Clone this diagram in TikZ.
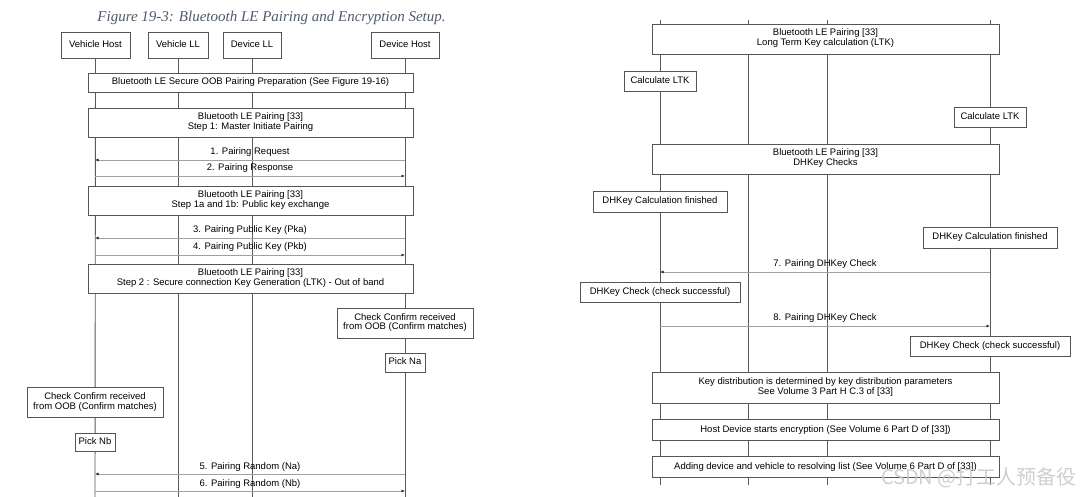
\documentclass[tikz,border=0pt]{standalone}
\usepackage{fontspec}
\setmainfont{Liberation Sans}
\newfontfamily\titlefont{Liberation Serif}
\newfontfamily\cjkfont{Noto Sans CJK SC}
\usetikzlibrary{arrows.meta}
\definecolor{boxline}{HTML}{555555}
\definecolor{lifeline}{HTML}{5A5A5A}
\definecolor{msgline}{HTML}{A0A0A0}
\definecolor{titlecol}{HTML}{4D5B70}
\newcommand\twolines[2]{\begin{tabular}{@{}c@{}}#1\\#2\end{tabular}}
\tikzset{
  boxbase/.style={draw=boxline, line width=0.9pt, fill=white, inner sep=0pt,
    font=\fontsize{9.5}{10}\selectfont, text=black},
  box/.style={boxbase, text height=7pt, text depth=2pt},
  box2/.style={boxbase},
  life/.style={draw=lifeline, line width=0.9pt},
  msg/.style={draw=msgline, line width=0.8pt, -{Latex[length=3.5pt,width=3pt,color=black!85]}},
  msglabel/.style={anchor=base, yshift=5pt, inner sep=0pt, font=\fontsize{9.5}{10}\selectfont, text=black}
}
\begin{document}
\begin{tikzpicture}[x=1pt,y=-1pt]
\useasboundingbox (0,0) rectangle (1080,497);
\fill[white] (0,0) rectangle (1080,497);

% ---------- LEFT PANEL ----------
\node[font=\titlefont\itshape\fontsize{15}{16}\selectfont, text=titlecol] (title) at (271.5,18) {Figure 19-3: Bluetooth LE Pairing and Encryption Setup.};

\node[box, minimum width=69, minimum height=26] (vh) at (95.5,45) {Vehicle Host};
\node[box, minimum width=60, minimum height=26] (vl) at (178,45) {Vehicle LL};
\node[box, minimum width=58, minimum height=26] (dl) at (252,45) {Device LL};
\node[box, minimum width=68, minimum height=26] (dh) at (405,45) {Device Host};

\coordinate (vhb) at (95,497);
\coordinate (vlb) at (178,497);
\coordinate (dlb) at (252,497);
\coordinate (dhb) at (405,497);
\draw[life] (vh.south) -- (vhb);
\draw[life] (vl.south) -- (vlb);
\draw[life] (dl.south) -- (dlb);
\draw[life] (dh.south) -- (dhb);

\node[box, minimum width=325, minimum height=19] (lb1) at (250.5,82.5) {Bluetooth LE Secure OOB Pairing Preparation (See Figure 19-16)};
\node[box2, minimum width=325, minimum height=29] (lb2) at (250.5,122.5) {\twolines{Bluetooth LE Pairing [33]}{Step 1: Master Initiate Pairing}};

\coordinate (m1a) at (405,160); \coordinate (m1b) at (95,160);
\draw[msg] (m1a) -- node[msglabel] {1. Pairing Request} (m1b);
\coordinate (m2a) at (95,176); \coordinate (m2b) at (405,176);
\draw[msg] (m2a) -- node[msglabel] {2. Pairing Response} (m2b);

\node[box2, minimum width=325, minimum height=29] (lb3) at (250.5,200.5) {\twolines{Bluetooth LE Pairing [33]}{Step 1a and 1b: Public key exchange}};

\coordinate (m3a) at (405,238); \coordinate (m3b) at (95,238);
\draw[msg] (m3a) -- node[msglabel] {3. Pairing Public Key (Pka)} (m3b);
\coordinate (m4a) at (95,255); \coordinate (m4b) at (405,255);
\draw[msg] (m4a) -- node[msglabel] {4. Pairing Public Key (Pkb)} (m4b);

\node[box2, minimum width=325, minimum height=29] (lb4) at (250.5,278.5) {\twolines{Bluetooth LE Pairing [33]}{Step 2 : Secure connection Key Generation (LTK) - Out of band}};

\node[box2, minimum width=136, minimum height=30] (cc1) at (405,323) {\twolines{Check Confirm received}{from OOB (Confirm matches)}};
\node[box, minimum width=40, minimum height=19] (pna) at (405,362.5) {Pick Na};
\node[box2, minimum width=136, minimum height=30] (cc2) at (95,402) {\twolines{Check Confirm received}{from OOB (Confirm matches)}};
\node[box, minimum width=40, minimum height=18] (pnb) at (95,442) {Pick Nb};

\coordinate (m5a) at (405,474); \coordinate (m5b) at (95,474);
\draw[msg] (m5a) -- node[msglabel] {5. Pairing Random (Na)} (m5b);
\coordinate (m6a) at (95,491); \coordinate (m6b) at (405,491);
\draw[msg] (m6a) -- node[msglabel] {6. Pairing Random (Nb)} (m6b);

% ---------- RIGHT PANEL ----------
\coordinate (r1t) at (660,20); \coordinate (r1b) at (660,485);
\coordinate (r2t) at (748,20); \coordinate (r2b) at (748,485);
\coordinate (r3t) at (827,20); \coordinate (r3b) at (827,485);
\coordinate (r4t) at (990,20); \coordinate (r4b) at (990,485);
\draw[life] (r1t) -- (r1b);
\draw[life] (r2t) -- (r2b);
\draw[life] (r3t) -- (r3b);
\draw[life] (r4t) -- (r4b);

\node[box2, minimum width=347, minimum height=30] (rb1) at (825.5,39) {\twolines{Bluetooth LE Pairing [33]}{Long Term Key calculation (LTK)}};
\node[box, minimum width=72, minimum height=20] (cl1) at (660,81) {Calculate LTK};
\node[box, minimum width=72, minimum height=20] (cl2) at (990,117) {Calculate LTK};
\node[box2, minimum width=347, minimum height=30] (rb2) at (825.5,159) {\twolines{Bluetooth LE Pairing [33]}{DHKey Checks}};
\node[box, minimum width=134, minimum height=21] (dc1) at (660,201.5) {DHKey Calculation finished};
\node[box, minimum width=134, minimum height=21] (dc2) at (990,237.5) {DHKey Calculation finished};

\coordinate (m7a) at (990,272); \coordinate (m7b) at (660,272);
\draw[msg] (m7a) -- node[msglabel] {7. Pairing DHKey Check} (m7b);

\node[box, minimum width=160, minimum height=20] (ds1) at (660,292) {DHKey Check (check successful)};

\coordinate (m8a) at (660,326); \coordinate (m8b) at (990,326);
\draw[msg] (m8a) -- node[msglabel] {8. Pairing DHKey Check} (m8b);

\node[box, minimum width=160, minimum height=20] (ds2) at (990,346) {DHKey Check (check successful)};

\node[box2, minimum width=347, minimum height=31] (rb3) at (825.5,387.5) {\twolines{Key distribution is determined by key distribution parameters}{See Volume 3 Part H C.3 of [33]}};
\node[box, minimum width=347, minimum height=21] (rb4) at (825.5,429.5) {Host Device starts encryption (See Volume 6 Part D of [33])};
\node[box, minimum width=347, minimum height=21] (rb5) at (825.5,466.5) {Adding device and vehicle to resolving list (See Volume 6 Part D of [33])};

% watermark
\node[font=\cjkfont\fontsize{20}{21}\selectfont, text=black!22, opacity=0.85, anchor=east, inner sep=0pt] (wm) at (1077,477.5) {CSDN @打工人预备役};
\end{tikzpicture}
\end{document}
